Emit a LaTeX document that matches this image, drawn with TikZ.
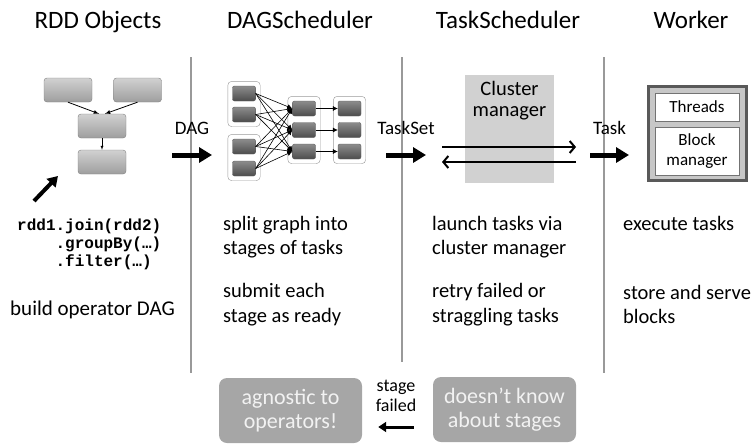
\documentclass[tikz,border=0pt]{standalone}
\usepackage{fontspec}
\setmainfont{Carlito}
\setmonofont{Liberation Mono}
\usetikzlibrary{arrows.meta,positioning,fit}

\begin{document}
\begin{tikzpicture}[
                    x=1pt,y=-1pt,
                    >=latex,
                    title/.style={font=\fontsize{25}{28}\selectfont,anchor=base},
                    note/.style={anchor=west,align=left,inner sep=0pt,font=\fontsize{20.5}{24.5}\selectfont},
                    flow/.style={inner sep=0pt,font=\fontsize{19}{20}\selectfont},
                    divider/.style={draw=black!40,line width=1.5pt},
                    bigarrow/.style={-{Triangle[length=13pt,width=15pt]},line width=5pt},
                    rddbox/.style={draw=black!50,top color=black!18,bottom color=black!38,rounded corners=3pt,minimum width=48pt,minimum height=24pt,inner sep=0pt},
                    part/.style={draw=black!65,top color=black!45,bottom color=black!70,rounded corners=2pt,minimum width=23pt,minimum height=15pt,inner sep=0pt},
                    stagebox/.style={draw=black!40,rounded corners=4pt,inner sep=4.5pt},
                    hint/.style={fill=black!35,text=black!5,rounded corners=8pt,align=center,minimum width=143pt,minimum height=65pt,inner sep=0pt,font=\fontsize{22}{24}\selectfont}
                ]
                \useasboundingbox (0,0) rectangle (754,447);

                % Column titles and dividers
                \node [title] (rddT) at (98,28) {RDD Objects};
                \node [title] (dagT) at (300,28) {DAGScheduler};
                \node [title] (taskT) at (508,28) {TaskScheduler};
                \node [title] (workT) at (691,28) {Worker};
                \draw [divider] (191,57) -- (191,373);
                \draw [divider] (402,57) -- (402,362);
                \draw [divider] (604,57) -- (604,373);

                % RDD objects
                \node [rddbox] (r1) at (68,90) {};
                \node [rddbox] (r2) at (137.5,90) {};
                \node [rddbox] (r3) at (102,126) {};
                \node [rddbox] (r4) at (102,162) {};
                \draw [->,thick] (r1.south) -- ([xshift=-3pt]r3.north);
                \draw [->,thick] (r2.south) -- ([xshift=3pt]r3.north);
                \draw [->] (r3.south) -- (r4.north);

                \node [anchor=base west,align=left,inner sep=0pt,font=\ttfamily\bfseries\fontsize{16}{18}\selectfont] (code) at (17,266)
                    {rdd1.join(rdd2)\\\phantom{rdd1}.groupBy(…)\\\phantom{rdd1}.filter(…)};
                \coordinate (codeTail) at (34,201);
                \coordinate (codeTip) at (58,176);
                \draw [-{Triangle[length=10pt,width=12pt]},line width=4pt] (codeTail) -- (codeTip);
                \node [anchor=base west,inner sep=0pt,font=\fontsize{21}{24}\selectfont] (build) at (10,315) {build operator DAG};

                % DAG handed over
                \coordinate (dagIn) at (172,155);
                \coordinate (dagOut) at (212,155);
                \draw [bigarrow] (dagIn) --node[flow,above=18pt]{DAG} (dagOut);

                % Stages
                \node [part] (a1) at (244,93.5) {};
                \node [part] (a2) at (244,114.5) {};
                \node [part] (b1) at (244,146.5) {};
                \node [part] (b2) at (244,168.5) {};
                \node [part] (c1) at (304,108.5) {};
                \node [part] (c2) at (304,130) {};
                \node [part] (c3) at (304,151.5) {};
                \node [part] (d1) at (349.5,108.5) {};
                \node [part] (d2) at (349.5,130) {};
                \node [part] (d3) at (349.5,151.5) {};
                \node [stagebox,fit=(a1)(a2)] (sa) {};
                \node [stagebox,fit=(b1)(b2)] (sb) {};
                \node [stagebox,fit=(c1)(c3)] (sc) {};
                \node [stagebox,fit=(d1)(d3)] (sd) {};
                \foreach \src in {a1,a2,b1,b2}
                    \foreach \dst in {c1,c2,c3}
                        \draw [-{Latex[length=5pt,width=5pt]},semithick] (\src.east) -- (\dst.west);
                \draw [-{Latex[length=5pt,width=5pt]},semithick] (c1) -- (d1);
                \draw [-{Latex[length=5pt,width=5pt]},semithick] (c2) -- (d2);
                \draw [-{Latex[length=5pt,width=5pt]},semithick] (c3) -- (d3);

                % TaskSet handed over
                \coordinate (setIn) at (386,155);
                \coordinate (setOut) at (426,155);
                \draw [bigarrow] (setIn) --node[flow,above=18pt]{TaskSet} (setOut);

                % Cluster manager
                \node [fill=black!18,minimum width=89pt,minimum height=108pt,inner sep=0pt] (cm) at (509.5,129) {};
                \node [anchor=north,align=center,font=\fontsize{20.5}{21}\selectfont,inner sep=0pt] (cmT) at ([yshift=-6pt]cm.north) {Cluster\\manager};
                \coordinate (launchA) at (442,147);
                \coordinate (launchB) at (576,147);
                \coordinate (backA) at (576,162);
                \coordinate (backB) at (442,162);
                \draw [-{Straight Barb[length=5pt,width=12pt]},line width=2pt] (launchA) -- (launchB);
                \draw [-{Straight Barb[length=5pt,width=12pt]},line width=2pt] (backA) -- (backB);

                % Task handed over
                \coordinate (taskIn) at (590,155);
                \coordinate (taskOut) at (629,155);
                \draw [bigarrow] (taskIn) --node[flow,above=18pt]{Task} (taskOut);

                % Worker
                \node [draw=black!65,line width=3pt,fill=black!22,minimum width=98pt,minimum height=94pt,inner sep=0pt] (wk) at (697.5,133.5) {};
                \node [draw=black!55,fill=white,minimum width=84pt,minimum height=28pt,inner sep=0pt,font=\fontsize{17}{20}\selectfont] (thr) at (697,107) {Threads};
                \node [draw=black!55,fill=white,minimum width=84pt,minimum height=48pt,inner sep=0pt,align=center,font=\fontsize{17}{20}\selectfont] (blk) at (697,151) {Block\\manager};

                % What each part does
                \node [note] (split) at (223,237) {split graph into\\stages of tasks};
                \node [note] (submit) at (223,304.5) {submit each\\stage as ready};
                \node [note] (launch) at (432,237) {launch tasks via\\cluster manager};
                \node [note] (retry) at (432,304.5) {retry failed or\\straggling tasks};
                \node [note,anchor=base west] (exec) at (623,230) {execute tasks};
                \node [note] (store) at (623,304.5) {store and serve\\blocks};

                % Failure path
                \node [hint] (hintDag) at (290.5,410.5) {agnostic to\\operators!};
                \node [hint] (hintTask) at (504.5,409.5) {doesn't know\\about stages};
                \draw [-{Triangle[length=8pt,width=10pt]},line width=3pt] ([xshift=-19pt,yshift=-17.5pt]hintTask.west) --node[above=14pt,inner sep=0pt,align=center,font=\fontsize{18}{20}\selectfont]{stage\\failed} ([xshift=16pt,yshift=-16.5pt]hintDag.east);
            \end{tikzpicture}
\end{document}
